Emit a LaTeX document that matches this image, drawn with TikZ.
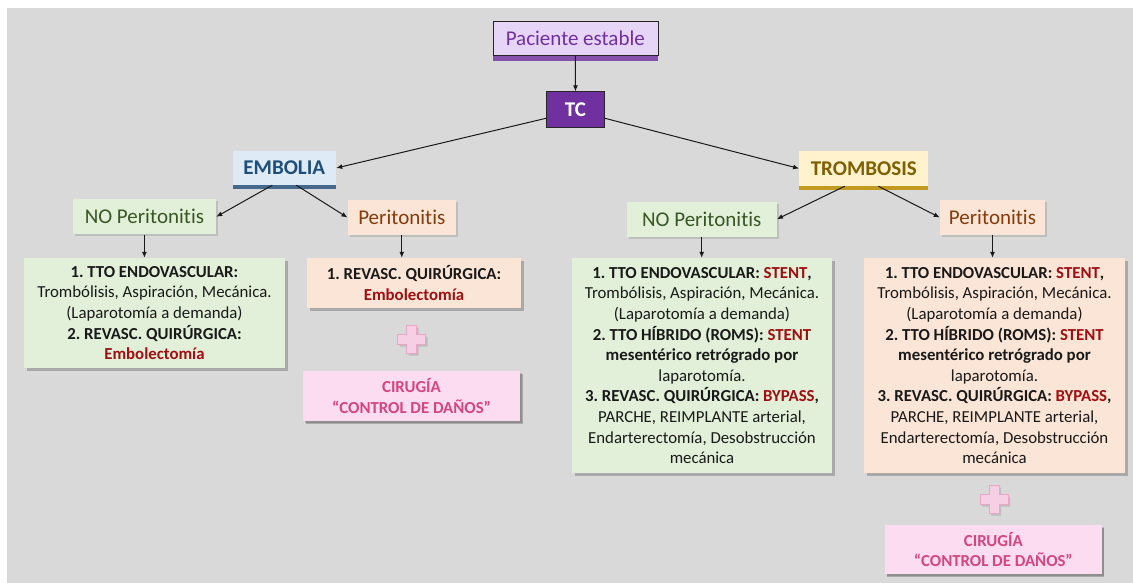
\documentclass[tikz,border=0pt]{standalone}
\usepackage{fontspec}
\setmainfont{Carlito}[Ligatures={NoCommon}]
\frenchspacing
\usetikzlibrary{arrows.meta,shadows,calc}
\definecolor{bggrey}{HTML}{D9D9D9}
\definecolor{purp}{HTML}{7030A0}
\definecolor{purpl}{HTML}{E6D5F6}
\definecolor{bluet}{HTML}{1F4E79}
\definecolor{bluef}{HTML}{DEEBF7}
\definecolor{yelt}{HTML}{7F6000}
\definecolor{yelf}{HTML}{FFF2CC}
\definecolor{yels}{HTML}{C09000}
\definecolor{greent}{HTML}{385723}
\definecolor{greenf}{HTML}{E2F0D9}
\definecolor{orat}{HTML}{843C0C}
\definecolor{oraf}{HTML}{FBE5D6}
\definecolor{dred}{HTML}{A00E12}
\definecolor{pinkf}{HTML}{FCDCF0}
\definecolor{pinkt}{HTML}{D5467E}
\definecolor{plusf}{HTML}{F7CFE4}
\definecolor{plusd}{HTML}{E9A6C6}
\newcommand{\rd}[1]{\textcolor{dred}{#1}}
\newcommand{\Perit}{Perit\kern0pt onit\kern0pt is}
\tikzset{
  base/.style={inner sep=0pt, align=center},
  title/.style={base, font=\fontsize{21}{25}\selectfont},
  body/.style={base, font=\fontsize{16.8}{20.6}\selectfont, text=black!90,
    drop shadow={shadow xshift=2.5pt, shadow yshift=-2.5pt, fill=black, opacity=0.22}},
  soft/.style={drop shadow={shadow xshift=2pt, shadow yshift=-2pt, fill=black, opacity=0.12}},
  arr/.style={-{Latex[length=6pt,width=5pt]}, line width=1pt, black!90},
  plusshape/.style={fill=plusf, draw=plusd, line width=0.8pt}
}
\begin{document}
\begin{tikzpicture}[x=1pt,y=-1pt]
\useasboundingbox (0,0) rectangle (1133,583);
\fill[bggrey] (7,8) rectangle (1133,583);

% top
\node[title, text=purp, fill=purpl, draw=black!85, line width=0.6pt, minimum width=165, minimum height=34,
  drop shadow={shadow xshift=0pt, shadow yshift=-5pt, fill=purp, opacity=0.8}] (pac) at (575.3,38.7) {Paciente estable};
\node[title, text=white, fill=purp, draw=black!85, line width=0.6pt, minimum width=57.5, minimum height=36,
  font=\fontsize{21}{25}\selectfont\bfseries] (tc) at (575.5,109.7) {TC};

\node[title, font=\fontsize{21}{25}\selectfont\bfseries, text=bluet, fill=bluef, minimum width=103.5, minimum height=34,
  drop shadow={shadow xshift=0pt, shadow yshift=-4.5pt, fill=bluet, opacity=0.8}] (emb) at (284.3,168) {EMBOLIA};
\node[title, font=\fontsize{21}{25}\selectfont\bfseries, text=yelt, fill=yelf, minimum width=129, minimum height=35,
  drop shadow={shadow xshift=0pt, shadow yshift=-4.5pt, fill=yels, opacity=0.85}] (tro) at (863.8,168.5) {TROMBOSIS};

\node[title, text=greent, fill=greenf, minimum width=143.3, minimum height=35, soft] (nop1) at (144.4,216.8) {NO \Perit};
\node[title, text=orat, fill=oraf, minimum width=108.3, minimum height=35, soft] (per1) at (401.8,217.5) {\Perit};
\node[title, text=greent, fill=greenf, minimum width=150, minimum height=35, soft] (nop2) at (701.7,219.2) {NO \Perit};
\node[title, text=orat, fill=oraf, minimum width=105, minimum height=35, soft] (per2) at (992.5,217.5) {\Perit};

% body boxes
\node[body, fill=greenf, minimum width=261, minimum height=110] (b1) at (154.5,313)
  {\textbf{1. TTO ENDOVASCULAR:}\\Trombólisis, Aspiración, Mecánica.\\(Laparotomía a demanda)\\\textbf{2. REVASC. QUIRÚRGICA:}\\\textbf{\rd{Embolectomía}}};
\node[body, fill=oraf, minimum width=214, minimum height=50] (b2) at (414,283)
  {\textbf{1. REVASC. QUIRÚRGICA:}\\\textbf{\rd{Embolectomía}}};
\node[body, fill=pinkf, text=pinkt, minimum width=217, minimum height=50,
  drop shadow={shadow xshift=2pt, shadow yshift=-2pt, fill=black, opacity=0.15}] (b3) at (411.5,396)
  {\textbf{CIRUGÍA}\\\textbf{“CONTROL DE DAÑOS”}};
\node[body, fill=greenf, minimum width=260, minimum height=215] (b4) at (702,365.5)
  {\textbf{1. TTO ENDOVASCULAR: \rd{STENT},}\\Trombólisis, Aspiración, Mecánica.\\(Laparotomía a demanda)\\\textbf{2. TTO HÍBRIDO (ROMS): \rd{STENT}}\\\textbf{mesentérico retrógrado por}\\laparotomía.\\\textbf{3. REVASC. QUIRÚRGICA: \rd{BYPASS},}\\PARCHE, REIMPLANTE arterial,\\Endarterectomía, Desobstrucción\\mecánica};
\node[body, fill=oraf, minimum width=261, minimum height=215] (b5) at (994.5,365.5)
  {\textbf{1. TTO ENDOVASCULAR: \rd{STENT},}\\Trombólisis, Aspiración, Mecánica.\\(Laparotomía a demanda)\\\textbf{2. TTO HÍBRIDO (ROMS): \rd{STENT}}\\\textbf{mesentérico retrógrado por}\\laparotomía.\\\textbf{3. REVASC. QUIRÚRGICA: \rd{BYPASS},}\\PARCHE, REIMPLANTE arterial,\\Endarterectomía, Desobstrucción\\mecánica};
\node[body, fill=pinkf, text=pinkt, minimum width=217, minimum height=49,
  drop shadow={shadow xshift=2pt, shadow yshift=-2pt, fill=black, opacity=0.15}] (b6) at (993.3,549.5)
  {\textbf{CIRUGÍA}\\\textbf{“CONTROL DE DAÑOS”}};

% plus signs
\foreach \cx/\cy in {411.5/339.5, 994/499.5}{
  \begin{scope}[shift={(\cx,\cy)}]
    \fill[black, opacity=0.12] (-14+2,-5+2) -- (-5+2,-5+2) -- (-5+2,-14+2) -- (5+2,-14+2) -- (5+2,-5+2) -- (14+2,-5+2)
      -- (14+2,5+2) -- (5+2,5+2) -- (5+2,14+2) -- (-5+2,14+2) -- (-5+2,5+2) -- (-14+2,5+2) -- cycle;
    \path[plusshape] (-14,-5) -- (-5,-5) -- (-5,-14) -- (5,-14) -- (5,-5) -- (14,-5)
      -- (14,5) -- (5,5) -- (5,14) -- (-5,14) -- (-5,5) -- (-14,5) -- cycle;
  \end{scope}
}

% connectors
\draw[arr] (pac.south) -- (tc.north);
\draw[arr] ($(tc.west)+(0,8.5)$) -- (emb.east);
\draw[arr] ($(tc.east)+(0,8.5)$) -- (tro.west);
\draw[arr] ($(emb.south)+(-12,0)$) -- (nop1.east);
\draw[arr] ($(emb.south)+(12,0)$) -- (per1.west);
\draw[arr] ($(tro.south)+(-19,0)$) -- (nop2.east);
\draw[arr] ($(tro.south)+(14.5,0)$) -- (per2.west);
\draw[arr] (nop1.south) -- (nop1.south |- b1.north);
\draw[arr] (per1.south) -- (per1.south |- b2.north);
\draw[arr] (nop2.south) -- (nop2.south |- b4.north);
\draw[arr] (per2.south) -- (per2.south |- b5.north);
\end{tikzpicture}
\end{document}
